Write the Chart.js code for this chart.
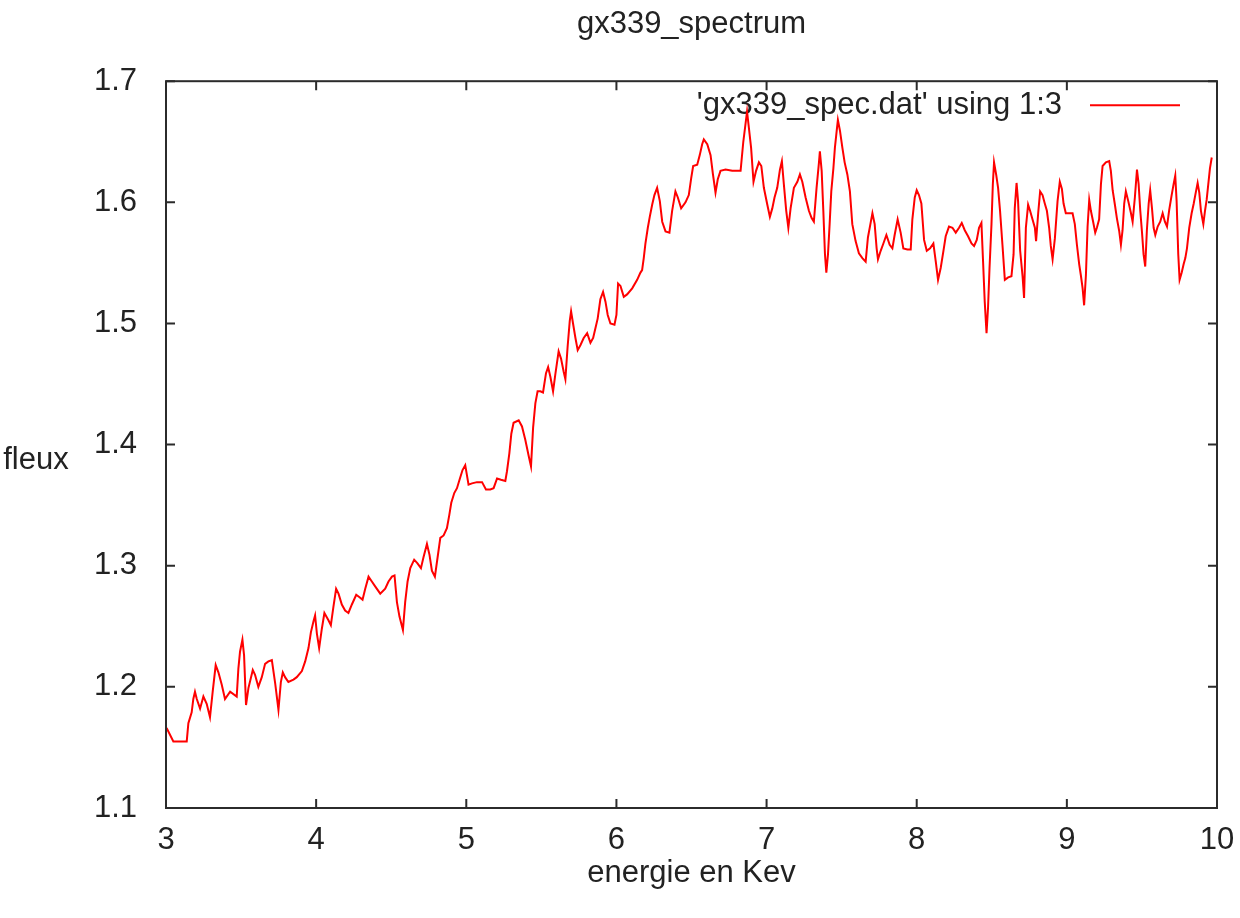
<!DOCTYPE html>
<html>
<head>
<meta charset="utf-8">
<title>gx339_spectrum</title>
<script src="https://cdn.jsdelivr.net/npm/chart.js@4.4.1/dist/chart.umd.min.js"></script>
<style>
    html, body { margin: 0; padding: 0; background: #fff; }
    canvas { display: block; }
</style>
</head>
<body>
<canvas id="spectrumChart" width="1240" height="918"></canvas>
<script>
// energy bins (keV) and flux read from gx339_spec.dat, column 1 vs column 3
const energy = [
    3.004, 3.049, 3.138, 3.149, 3.171, 3.182, 3.193, 3.205, 3.227, 3.249, 3.271, 3.293, 3.311, 3.331, 3.349, 3.371,
    3.393, 3.427, 3.471, 3.482, 3.493, 3.509, 3.520, 3.533, 3.549, 3.578, 3.593, 3.615, 3.638, 3.660, 3.682, 3.705,
    3.727, 3.749, 3.765, 3.778, 3.793, 3.815, 3.849, 3.871, 3.905, 3.927, 3.949, 3.965, 3.982, 3.993, 4.005, 4.020,
    4.038, 4.055, 4.082, 4.098, 4.115, 4.133, 4.149, 4.171, 4.193, 4.215, 4.238, 4.267, 4.289, 4.309, 4.327, 4.349,
    4.371, 4.393, 4.427, 4.460, 4.482, 4.505, 4.522, 4.538, 4.555, 4.578, 4.593, 4.609, 4.627, 4.653, 4.675, 4.698,
    4.715, 4.738, 4.755, 4.771, 4.791, 4.809, 4.827, 4.849, 4.871, 4.887, 4.900, 4.920, 4.938, 4.955, 4.975, 4.993,
    5.015, 5.038, 5.071, 5.105, 5.131, 5.160, 5.182, 5.205, 5.231, 5.260, 5.271, 5.287, 5.300, 5.315, 5.349, 5.371,
    5.393, 5.415, 5.431, 5.445, 5.460, 5.475, 5.493, 5.511, 5.531, 5.545, 5.560, 5.578, 5.593, 5.615, 5.631, 5.649,
    5.660, 5.675, 5.689, 5.698, 5.711, 5.727, 5.742, 5.760, 5.782, 5.805, 5.827, 5.845, 5.860, 5.875, 5.893, 5.911,
    5.927, 5.942, 5.960, 5.987, 6.000, 6.011, 6.027, 6.049, 6.071, 6.105, 6.138, 6.160, 6.171, 6.182, 6.193, 6.209,
    6.222, 6.238, 6.253, 6.271, 6.289, 6.305, 6.327, 6.353, 6.371, 6.393, 6.409, 6.431, 6.460, 6.482, 6.498, 6.511,
    6.538, 6.555, 6.571, 6.582, 6.605, 6.627, 6.642, 6.660, 6.675, 6.693, 6.727, 6.771, 6.827, 6.845, 6.870, 6.880,
    6.897, 6.913, 6.930, 6.949, 6.965, 6.982, 7.005, 7.022, 7.038, 7.053, 7.071, 7.089, 7.102, 7.115, 7.131, 7.145,
    7.160, 7.182, 7.205, 7.222, 7.238, 7.260, 7.282, 7.300, 7.315, 7.333, 7.349, 7.355, 7.367, 7.378, 7.389, 7.398,
    7.409, 7.420, 7.431, 7.445, 7.455, 7.467, 7.475, 7.489, 7.505, 7.520, 7.538, 7.555, 7.571, 7.593, 7.615, 7.638,
    7.660, 7.675, 7.693, 7.705, 7.720, 7.733, 7.742, 7.760, 7.778, 7.798, 7.820, 7.838, 7.853, 7.873, 7.893, 7.911,
    7.938, 7.960, 7.971, 7.987, 8.000, 8.015, 8.031, 8.049, 8.067, 8.089, 8.111, 8.127, 8.142, 8.160, 8.178, 8.193,
    8.215, 8.238, 8.260, 8.282, 8.300, 8.320, 8.342, 8.365, 8.382, 8.400, 8.415, 8.431, 8.442, 8.453, 8.465, 8.475,
    8.485, 8.498, 8.507, 8.515, 8.529, 8.542, 8.555, 8.571, 8.587, 8.609, 8.631, 8.645, 8.653, 8.665, 8.675, 8.689,
    8.705, 8.715, 8.727, 8.742, 8.755, 8.771, 8.787, 8.795, 8.809, 8.822, 8.838, 8.853, 8.867, 8.882, 8.893, 8.905,
    8.920, 8.938, 8.953, 8.967, 8.978, 8.993, 9.038, 9.053, 9.067, 9.082, 9.093, 9.105, 9.115, 9.127, 9.138, 9.149,
    9.160, 9.175, 9.189, 9.200, 9.215, 9.227, 9.238, 9.260, 9.282, 9.293, 9.305, 9.320, 9.333, 9.349, 9.360, 9.371,
    9.382, 9.393, 9.409, 9.427, 9.438, 9.453, 9.467, 9.478, 9.489, 9.500, 9.511, 9.522, 9.533, 9.545, 9.555, 9.567,
    9.578, 9.589, 9.605, 9.622, 9.638, 9.653, 9.667, 9.682, 9.698, 9.711, 9.722, 9.731, 9.742, 9.751, 9.765, 9.778,
    9.789, 9.800, 9.815, 9.831, 9.845, 9.860, 9.871, 9.882, 9.893, 9.909, 9.920, 9.931, 9.942, 9.953, 9.965
];

const flux = [
    1.166, 1.155, 1.155, 1.170, 1.179, 1.190, 1.196, 1.190, 1.182, 1.192, 1.186, 1.175, 1.196, 1.218, 1.212, 1.202,
    1.190, 1.196, 1.192, 1.215, 1.229, 1.239, 1.226, 1.185, 1.199, 1.214, 1.210, 1.200, 1.208, 1.219, 1.221, 1.222,
    1.203, 1.181, 1.204, 1.212, 1.208, 1.204, 1.206, 1.208, 1.213, 1.221, 1.232, 1.245, 1.254, 1.259, 1.244, 1.232,
    1.248, 1.261, 1.255, 1.251, 1.266, 1.281, 1.277, 1.268, 1.263, 1.261, 1.268, 1.276, 1.274, 1.272, 1.281, 1.291,
    1.287, 1.283, 1.277, 1.281, 1.287, 1.291, 1.292, 1.270, 1.258, 1.247, 1.270, 1.287, 1.298, 1.305, 1.302, 1.298,
    1.307, 1.318, 1.309, 1.296, 1.291, 1.307, 1.323, 1.325, 1.331, 1.342, 1.352, 1.360, 1.364, 1.371, 1.379, 1.383,
    1.367, 1.368, 1.369, 1.369, 1.363, 1.363, 1.364, 1.372, 1.371, 1.370, 1.378, 1.393, 1.409, 1.418, 1.420, 1.415,
    1.404, 1.391, 1.382, 1.414, 1.434, 1.444, 1.444, 1.443, 1.459, 1.464, 1.456, 1.444, 1.458, 1.477, 1.471, 1.460,
    1.454, 1.481, 1.502, 1.510, 1.500, 1.488, 1.478, 1.482, 1.488, 1.492, 1.484, 1.488, 1.496, 1.504, 1.520, 1.526,
    1.518, 1.507, 1.500, 1.499, 1.507, 1.533, 1.531, 1.522, 1.524, 1.529, 1.536, 1.542, 1.544, 1.554, 1.566, 1.579,
    1.588, 1.598, 1.606, 1.612, 1.601, 1.584, 1.576, 1.575, 1.593, 1.609, 1.604, 1.595, 1.600, 1.606, 1.620, 1.630,
    1.631, 1.639, 1.648, 1.652, 1.648, 1.639, 1.624, 1.608, 1.619, 1.626, 1.627, 1.626, 1.626, 1.650, 1.675, 1.664,
    1.645, 1.617, 1.626, 1.633, 1.630, 1.612, 1.598, 1.588, 1.595, 1.604, 1.612, 1.627, 1.634, 1.615, 1.593, 1.579,
    1.595, 1.612, 1.617, 1.623, 1.617, 1.604, 1.593, 1.587, 1.584, 1.612, 1.633, 1.642, 1.626, 1.593, 1.557, 1.542,
    1.557, 1.582, 1.609, 1.628, 1.645, 1.659, 1.668, 1.659, 1.645, 1.633, 1.623, 1.609, 1.582, 1.568, 1.558, 1.554,
    1.551, 1.571, 1.583, 1.591, 1.582, 1.562, 1.553, 1.560, 1.566, 1.573, 1.565, 1.562, 1.573, 1.586, 1.575, 1.562,
    1.561, 1.561, 1.586, 1.604, 1.610, 1.606, 1.599, 1.569, 1.560, 1.562, 1.566, 1.551, 1.536, 1.546, 1.560, 1.572,
    1.580, 1.579, 1.575, 1.579, 1.583, 1.577, 1.572, 1.566, 1.564, 1.569, 1.579, 1.583, 1.551, 1.518, 1.492, 1.513,
    1.546, 1.582, 1.615, 1.633, 1.623, 1.612, 1.593, 1.565, 1.536, 1.538, 1.539, 1.557, 1.595, 1.616, 1.601, 1.560,
    1.539, 1.521, 1.579, 1.598, 1.593, 1.586, 1.579, 1.568, 1.591, 1.609, 1.606, 1.599, 1.593, 1.579, 1.564, 1.553,
    1.570, 1.601, 1.617, 1.611, 1.599, 1.591, 1.591, 1.582, 1.565, 1.549, 1.540, 1.529, 1.515, 1.540, 1.580, 1.602,
    1.593, 1.584, 1.575, 1.579, 1.586, 1.615, 1.630, 1.633, 1.634, 1.626, 1.610, 1.598, 1.587, 1.576, 1.565, 1.577,
    1.599, 1.609, 1.601, 1.591, 1.584, 1.604, 1.627, 1.615, 1.593, 1.576, 1.557, 1.547, 1.577, 1.599, 1.610, 1.595,
    1.579, 1.573, 1.580, 1.584, 1.591, 1.584, 1.580, 1.594, 1.606, 1.615, 1.622, 1.601, 1.557, 1.536, 1.542, 1.549,
    1.554, 1.562, 1.579, 1.591, 1.599, 1.609, 1.616, 1.608, 1.593, 1.582, 1.593, 1.602, 1.615, 1.628, 1.637
];

// axis ranges and tick steps
const xRange = [3, 10];
const yRange = [1.1, 1.7];
const xStep = 1;
const yStep = 0.1;

const FONT = '"Liberation Sans", Arial, Helvetica, sans-serif';
const TEXT_COLOR = '#222';
const FRAME_COLOR = '#2b2b2b';
const LINE_COLOR = '#ff0000';

// gnuplot-like box: frame with inward ticks on all four sides,
// horizontal y label and the key in the top right corner
const gnuplotFrame = {
    id: 'gnuplotFrame',
    beforeDatasetsDraw(chart) {
        const { ctx, chartArea: a } = chart;
        const ds = chart.data.datasets[0];
        const ky = a.top + 24;

        ctx.save();
        ctx.font = '31px ' + FONT;
        ctx.fillStyle = TEXT_COLOR;
        ctx.textAlign = 'right';
        ctx.textBaseline = 'middle';
        ctx.fillText(ds.label, a.right - 155, ky);

        ctx.strokeStyle = ds.borderColor;
        ctx.lineWidth = 2;
        ctx.beginPath();
        ctx.moveTo(a.right - 127, ky);
        ctx.lineTo(a.right - 37, ky);
        ctx.stroke();
        ctx.restore();
    },
    afterDraw(chart) {
        const { ctx, chartArea: a, scales } = chart;
        const tick = 9;

        ctx.save();
        ctx.strokeStyle = FRAME_COLOR;
        ctx.lineWidth = 2;
        ctx.strokeRect(a.left, a.top, a.right - a.left, a.bottom - a.top);

        ctx.beginPath();
        scales.x.ticks.forEach(t => {
            const px = scales.x.getPixelForValue(t.value);
            ctx.moveTo(px, a.bottom);
            ctx.lineTo(px, a.bottom - tick);
            ctx.moveTo(px, a.top);
            ctx.lineTo(px, a.top + tick);
        });
        scales.y.ticks.forEach(t => {
            const py = scales.y.getPixelForValue(t.value);
            ctx.moveTo(a.left, py);
            ctx.lineTo(a.left + tick, py);
            ctx.moveTo(a.right, py);
            ctx.lineTo(a.right - tick, py);
        });
        ctx.stroke();

        // y axis label is written horizontally
        ctx.font = '31px ' + FONT;
        ctx.fillStyle = TEXT_COLOR;
        ctx.textAlign = 'center';
        ctx.textBaseline = 'middle';
        ctx.fillText('fleux', 36, (a.top + a.bottom) / 2 + 16);
        ctx.restore();
    }
};

const ctx = document.getElementById('spectrumChart').getContext('2d');
new Chart(ctx, {
    type: 'line',
    data: {
        datasets: [{
            label: "'gx339_spec.dat' using 1:3",
            data: energy.map((e, i) => ({ x: e, y: flux[i] })),
            borderColor: LINE_COLOR,
            borderWidth: 2,
            pointRadius: 0,
            tension: 0,
            fill: false
        }]
    },
    options: {
        responsive: false,
        animation: false,
        layout: {
            padding: { left: 0, right: 23, top: 0, bottom: 0 }
        },
        plugins: {
            legend: { display: false },
            tooltip: { enabled: false },
            title: {
                display: true,
                fullSize: false,
                text: 'gx339_spectrum',
                color: TEXT_COLOR,
                font: { family: FONT, size: 31, weight: 'normal', lineHeight: 1.2 },
                padding: { top: 6, bottom: 38 }
            }
        },
        scales: {
            x: {
                type: 'linear',
                min: xRange[0],
                max: xRange[1],
                grid: { display: false, drawTicks: false },
                border: { display: false },
                ticks: {
                    stepSize: xStep,
                    padding: 17,
                    color: TEXT_COLOR,
                    font: { family: FONT, size: 31, lineHeight: 1 },
                    maxRotation: 0
                },
                title: {
                    display: true,
                    text: 'energie en Kev',
                    color: TEXT_COLOR,
                    font: { family: FONT, size: 31, lineHeight: 1 },
                    padding: { top: -15, bottom: 29 }
                },
                afterFit(scale) {
                    // the end labels may overhang the frame, as in gnuplot
                    scale.paddingLeft = 0;
                    scale.paddingRight = 0;
                }
            },
            y: {
                min: yRange[0],
                max: yRange[1],
                grid: { display: false, drawTicks: false },
                border: { display: false },
                ticks: {
                    stepSize: yStep,
                    padding: 29,
                    color: TEXT_COLOR,
                    font: { family: FONT, size: 31, lineHeight: 1 },
                    callback: v => v.toFixed(1)
                },
                afterFit(scale) {
                    scale.width = 166;
                }
            }
        }
    },
    plugins: [gnuplotFrame]
});
</script>
</body>
</html>
